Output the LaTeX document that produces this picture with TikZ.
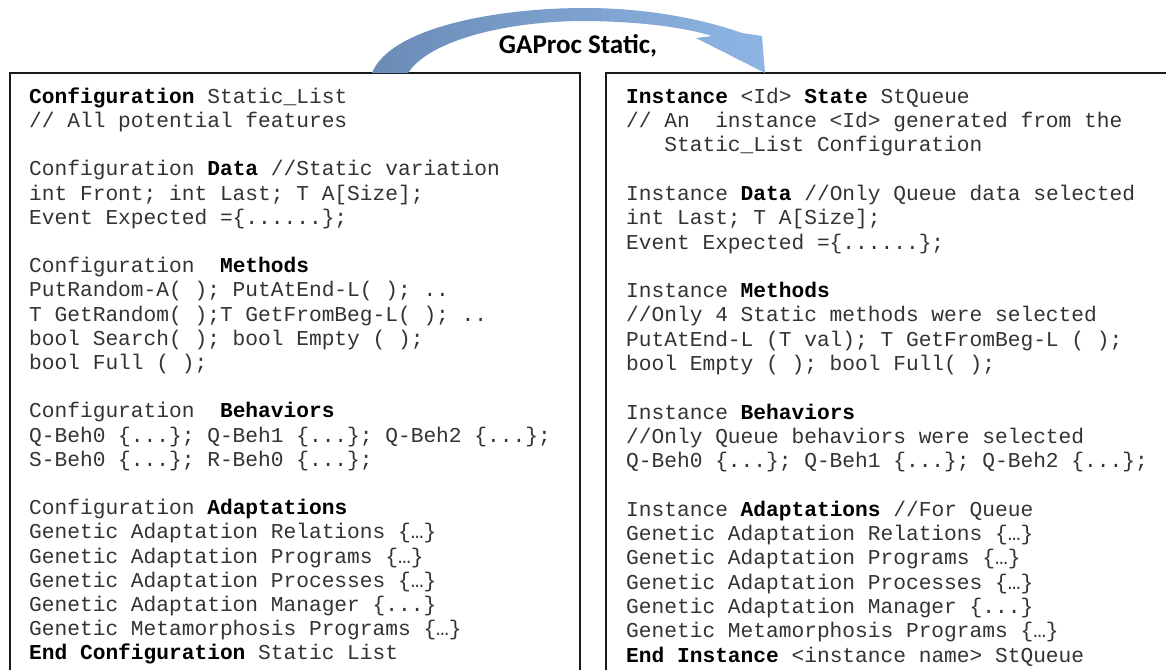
\documentclass[tikz,border=0pt]{standalone}
\usepackage{fontspec}
\newfontfamily\codefont{Liberation Mono}
\newfontfamily\bannerfont{Carlito}
\definecolor{arrowdark}{HTML}{6A8BB6}
\definecolor{arrowlight}{HTML}{8EB5E4}
\definecolor{framecol}{HTML}{1A1A1A}
\definecolor{codecol}{HTML}{333333}
\newcommand\kwd[1]{\textbf{\color{black}#1}}
\begin{document}
\begin{tikzpicture}[x=1pt,y=-1pt,
  frame/.style={draw=framecol, line width=2pt},
  code/.style={anchor=north west, inner sep=0pt, align=left, text=codecol,
    font=\fontsize{21.2}{24.2}\selectfont\codefont\frenchspacing},
  banner/.style={font=\fontsize{27}{32}\selectfont\bannerfont\bfseries, inner sep=0pt}]
\useasboundingbox (0,0) rectangle (1166,669);
\fill[white] (0,0) rectangle (1166,669);

% the two listing frames (open at the bottom)
\draw[frame] (10,690) -- (10,73) -- (580,73) -- (580,690);
\draw[frame] (606,690) -- (606,73) -- (1190,73);

% configuration listing
\node[code] (conf) at (29,83) {\rule{0pt}{20pt}\kwd{Configuration} Static\_List\\
// All potential features\\[24.2pt]
Configuration \kwd{Data} //Static variation\\
int Front; int Last; T A[Size];\\
Event Expected =\{......\};\\[24.2pt]
Configuration\ \ \kwd{Methods}\\
PutRandom-A( ); PutAtEnd-L( ); ..\\
T GetRandom( );T GetFromBeg-L( ); ..\\
bool Search( ); bool Empty ( );\\
bool Full ( );\\[24.2pt]
Configuration\ \ \kwd{Behaviors}\\
Q-Beh0 \{...\}; Q-Beh1 \{...\}; Q-Beh2 \{...\};\\
S-Beh0 \{...\}; R-Beh0 \{...\};\\[24.2pt]
Configuration \kwd{Adaptations}\\
Genetic Adaptation Relations \{…\}\\
Genetic Adaptation Programs \{…\}\\
Genetic Adaptation Processes \{…\}\\
Genetic Adaptation Manager \{...\}\\
Genetic Metamorphosis Programs \{…\}\\
\kwd{End Configuration} Static List};

% instance listing
\node[code, font=\fontsize{21.2}{24.3}\selectfont\codefont\frenchspacing] (inst) at (626,83) {\rule{0pt}{20pt}\kwd{Instance} <Id> \kwd{State} StQueue\\
// An\ \ instance <Id> generated from the\\
\phantom{xxx}Static\_List Configuration\\[24.3pt]
Instance \kwd{Data} //Only Queue data selected\\
int Last; T A[Size];\\
Event Expected =\{......\};\\[24.3pt]
Instance \kwd{Methods}\\
//Only 4 Static methods were selected\\
PutAtEnd-L (T val); T GetFromBeg-L ( );\\
bool Empty ( ); bool Full( );\\[24.3pt]
Instance \kwd{Behaviors}\\
//Only Queue behaviors were selected\\
Q-Beh0 \{...\}; Q-Beh1 \{...\}; Q-Beh2 \{...\};\\[24.3pt]
Instance \kwd{Adaptations} //For Queue\\
Genetic Adaptation Relations \{…\}\\
Genetic Adaptation Programs \{…\}\\
Genetic Adaptation Processes \{…\}\\
Genetic Adaptation Manager \{...\}\\
Genetic Metamorphosis Programs \{…\}\\
\kwd{End Instance} <instance name> StQueue};

% curved block arrow from the configuration frame to the instance frame
\coordinate (arrowOuter) at (372,73);
\coordinate (arrowInner) at (408,73);
\coordinate (arrowTip) at (765,73);
\path[left color=arrowdark, right color=arrowlight]
  (arrowOuter) .. controls (390,28) and (495,8) .. (585,8)
  .. controls (650,8) and (705,20) .. (742,33)
  -- (762,36) -- (arrowTip) -- (696,38) -- (712,36)
  .. controls (680,26) and (630,21) .. (580,21)
  .. controls (500,22) and (428,42) .. (arrowInner) -- cycle;

\node[banner, anchor=base] (lbl) at (578,54) {GAProc Static,};
\end{tikzpicture}
\end{document}
